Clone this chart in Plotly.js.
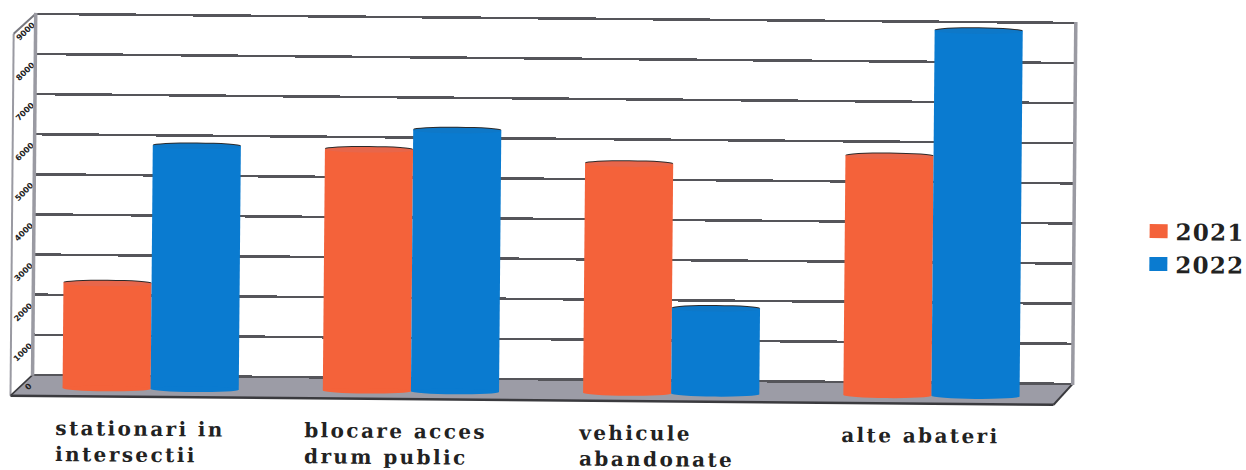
<!DOCTYPE html>
<html>
<head>
<meta charset="utf-8">
<script src="https://cdn.plot.ly/plotly-3.0.1.min.js"></script>
<style>
html,body{margin:0;padding:0;background:#fff;overflow:hidden}
#chart{width:1246px;height:470px;transform:rotate(0.5deg);transform-origin:623px 235px}
#chart .annotation-text{letter-spacing:2.4px}
#chart .legendtext{letter-spacing:1.2px}
#chart .legend .legendpoints path{d:path("M12,7H-6V-7H12Z") !important}
</style>
</head>
<body>
<div id="chart"></div>
<script>
const categories = ["stationari in<br>intersectii", "blocare acces<br>drum public", "vehicule<br>abandonate", "alte abateri"];
const series2021 = [2650, 6050, 5750, 6000];
const series2022 = [6100, 6550, 2150, 9150];
const valueTicks = [0, 1000, 2000, 3000, 4000, 5000, 6000, 7000, 8000, 9000];
const labelShift = [-97, -108, -95, -92];

const W = 1246, H = 470;
const px = p => p / W, py = p => 1 - p / H;
const ORANGE = '#F4623A', BLUE = '#0A7BD0';
const GROUP = 0.677, HALF = GROUP / 2, CAP = 70;

const idx = categories.map((_, i) => i);
const traces = [
  {type:'scatter', x:[null], y:[null], xaxis:'x', yaxis:'y', showlegend:false, hoverinfo:'skip'},
  {type:'scatter', x:[null], y:[null], xaxis:'x', yaxis:'y3', showlegend:false, hoverinfo:'skip'},
  {type:'bar', name:'2021', x:idx, y:series2021, xaxis:'x2', yaxis:'y2', marker:{color:ORANGE, line:{width:0}}},
  {type:'bar', name:'2022', x:idx, y:series2022, xaxis:'x2', yaxis:'y2', marker:{color:BLUE, line:{width:0}}}
];

const WALL = '#9A9AA2', EDGE = '#3a3a3e';
const paperLine = (x0, y0, x1, y1, color, width, layer) => ({type:'line', xref:'paper', yref:'paper', layer:layer || 'below',
  x0:px(x0), y0:py(y0), x1:px(x1), y1:py(y1), line:{color, width}});
const shapes = [
  {type:'path', xref:'paper', yref:'paper', layer:'below', line:{width:0}, fillcolor:'#9C9CA6',
   path:`M${px(34)},${py(380)} L${px(1080)},${py(380)} L${px(1061)},${py(401)} L${px(12)},${py(401)} Z`},
  paperLine(12, 401, 1061, 401, EDGE, 2.5),
  paperLine(1061, 401, 1080, 380, EDGE, 2),
  paperLine(12, 39, 12, 401, WALL, 2),
  paperLine(12, 39, 34, 19, '#77777e', 2),
  paperLine(12, 401, 34, 380, EDGE, 1.5),
  paperLine(34, 18, 34, 381, WALL, 3.5, 'above'),
  paperLine(1080, 18, 1080, 381, WALL, 3.5, 'above')
];
function addCaps(values, offset, color, face) {
  values.forEach((v, i) => {
    const x0 = i + offset, x1 = x0 + HALF;
    shapes.push({type:'circle', xref:'x2', yref:'y2', x0, x1, y0:-CAP, y1:CAP, fillcolor:color, line:{width:0}});
    shapes.push({type:'circle', xref:'x2', yref:'y2', x0, x1, y0:v - CAP, y1:v + CAP, fillcolor:'#2c2a2a', line:{width:0}});
    shapes.push({type:'circle', xref:'x2', yref:'y2', x0, x1, y0:v - CAP - 25, y1:v + CAP - 25, fillcolor:face, line:{width:0}});
  });
}
addCaps(series2021, -HALF, ORANGE, '#E8664A');
addCaps(series2022, 0, BLUE, '#0E78C8');

const annotations = categories.map((c, i) => ({
  text:c, xref:'x2', yref:'paper', x:i, y:py(418.5), xanchor:'left', yanchor:'top',
  xshift:labelShift[i], align:'left', showarrow:false,
  font:{family:'"DejaVu Serif", serif', size:20, color:'#222', weight:700}
}));

const layout = {
  width:W, height:H, margin:{l:0, r:0, t:0, b:0, pad:0},
  paper_bgcolor:'rgba(0,0,0,0)', plot_bgcolor:'rgba(0,0,0,0)',
  font:{family:'"DejaVu Serif", serif', color:'#222'},
  barmode:'group', bargap:1 - GROUP, bargroupgap:0,
  xaxis:{domain:[px(34), px(1080)], range:[0,1], showgrid:false, zeroline:false, showticklabels:false, ticks:'', showline:false},
  yaxis:{domain:[py(382), py(17)], range:[-50,9050], tickvals:valueTicks, gridcolor:'#55555a', gridwidth:2.5,
         showticklabels:false, ticks:'', zeroline:false, showline:false},
  xaxis2:{domain:[px(22), px(1069)], range:[-0.5,3.5], showgrid:false, zeroline:false, showticklabels:false, ticks:'', anchor:'y2'},
  yaxis2:{domain:[py(401), py(13)], range:[-200,9500], showgrid:false, zeroline:false, showticklabels:false, ticks:'', anchor:'x2'},
  yaxis3:{domain:[py(390), py(29)], range:[0,9000], tickvals:valueTicks, anchor:'free', position:px(31), side:'left',
          showgrid:false, zeroline:false, ticks:'', showline:false, tickangle:-45,
          tickfont:{family:'"DejaVu Sans", sans-serif', size:8, color:'#222', weight:700}},
  legend:{x:px(1142), xanchor:'left', y:py(243), yanchor:'middle', bgcolor:'rgba(0,0,0,0)', borderwidth:0,
          font:{family:'"DejaVu Serif", serif', size:23, color:'#222', weight:700}, itemwidth:30, tracegroupgap:0},
  shapes, annotations
};
Plotly.newPlot('chart', traces, layout, {displayModeBar:false, staticPlot:true});
</script>
</body>
</html>
